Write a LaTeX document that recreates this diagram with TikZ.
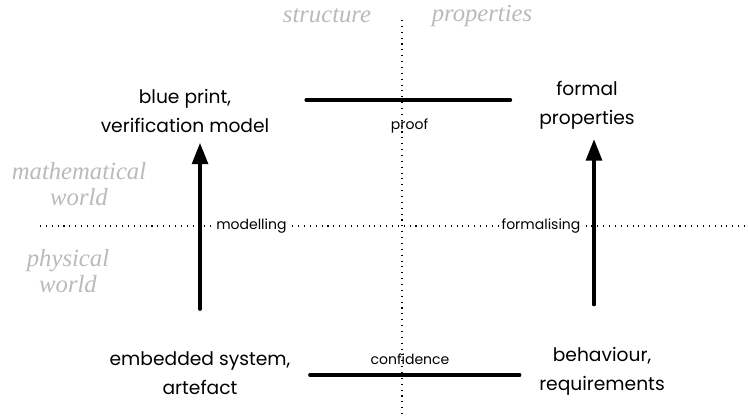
\documentclass[tikz,border=0pt]{standalone}
\usepackage{fontspec}
\setmainfont{Poppins}
\newfontfamily\worldfont{Liberation Serif}
\usetikzlibrary{arrows.meta,positioning}

\begin{document}
\begin{tikzpicture}[x=0.75pt,y=-0.75pt,
    item/.style={align=center, font=\fontsize{14}{22}\selectfont},
    tag/.style={font=\fontsize{10.5}{12}\selectfont, inner sep=1pt},
    world/.style={align=center, text=black!27, font=\worldfont\itshape\fontsize{18.5}{20}\selectfont},
    bar/.style={line width=2.3pt, line cap=round},
    guide/.style={line width=0.8pt, dash pattern=on 0.8pt off 3.6pt}]
    \useasboundingbox (0,0) rectangle (748,418);

    % the two worlds and the two sides
    \coordinate (vtop) at (402,20);
    \coordinate (vbot) at (402,418);
    \coordinate (hleft) at (40,226);
    \coordinate (hright) at (748,226);
    \draw [guide] (vtop) -- (vbot);
    \draw [guide] (hleft) -- (hright);

    \node [world] (struct) at (327,16) {structure};
    \node [world] (props) at (482,16) {properties};
    \node [world] (math) at (79,184) {mathematical\\world};
    \node [world] (phys) at (68,271) {physical\\world};

    % the four corners
    \node [item] (blue) at (185,111) {blue print,\\verification model};
    \node [item] (formal) at (587,105) {formal\\properties};
    \node [item] (emb) at (200,373) {embedded system,\\artefact};
    \node [item] (behav) at (602,371) {behaviour,\\requirements};

    % Connections
    \draw [bar, shorten <=28, shorten >=4, -{Triangle[length=16pt,width=12pt]}]
        (emb.north) -- (blue.south -| emb.north);
    \draw [bar, shorten <=28, shorten >=4, -{Triangle[length=16pt,width=12pt]}]
        ([xshift=-6pt]behav.north) -- ([xshift=-6pt]behav.north |- formal.south);
    \node [tag, fill=white, right=11pt] (model) at (emb.north |- hleft) {modelling};
    \node [tag, fill=white, left=9pt] (formalise) at ([xshift=-6pt]behav.north |- hright) {formalising};

    \draw [bar, shorten <=24, shorten >=18] (blue.east |- 0,100) -- (formal.west |- 0,100)
        node [pos=0.52, below=12pt, tag] (proof) {proof};
    \draw [bar, shorten <=11, shorten >=11] (emb.east |- 0,375) -- (behav.west |- 0,375)
        node [pos=0.48, above=6pt, tag] (conf) {confidence};
\end{tikzpicture}
\end{document}
